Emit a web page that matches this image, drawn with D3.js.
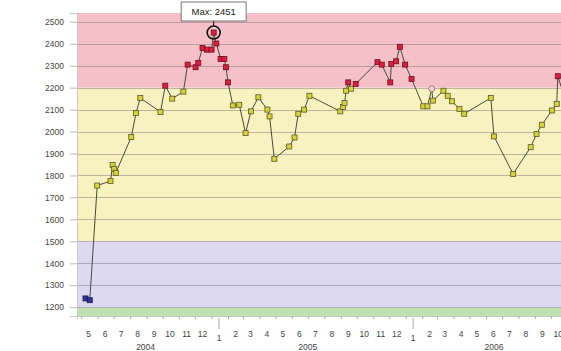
<!DOCTYPE html>
<html>
<head>
<meta charset="utf-8" />
<style>
  body { margin: 0; background: #fff; }
  svg { display: block; font-family: "Liberation Sans", Arial, sans-serif; }
</style>
</head>
<body>
<div id="chart"></div>
<script src="https://cdn.jsdelivr.net/npm/d3@7/dist/d3.min.js"></script>
<script>
var dates = ["2004-05-09","2004-05-17","2004-05-31","2004-06-25","2004-06-29","2004-07-02","2004-07-05",
  "2004-08-03","2004-08-12","2004-08-20","2004-09-27","2004-10-06","2004-10-19","2004-11-09","2004-11-17",
  "2004-12-02","2004-12-07","2004-12-15","2004-12-23","2005-01-01","2005-01-05","2005-01-10","2005-01-18",
  "2005-01-25","2005-01-28","2005-02-01","2005-02-10","2005-02-22","2005-03-06","2005-03-16","2005-03-30",
  "2005-04-16","2005-04-20","2005-04-29","2005-05-27","2005-06-06","2005-06-13","2005-06-24","2005-07-04",
  "2005-08-31","2005-09-05","2005-09-08","2005-09-11","2005-09-15","2005-09-20","2005-09-29","2005-11-09",
  "2005-11-17","2005-12-03","2005-12-05","2005-12-14","2005-12-21","2005-12-31","2006-01-12","2006-02-03",
  "2006-02-11","2006-02-19","2006-02-21","2006-03-13","2006-03-21","2006-03-29","2006-04-12","2006-04-21",
  "2006-06-10","2006-06-16","2006-07-22","2006-08-24","2006-09-04","2006-09-14","2006-10-03","2006-10-12",
  "2006-10-14","2006-10-29"];
var values = [1240,1232,1754,1775,1848,1830,1812,1975,2084,2153,2089,2209,2150,2182,2305,2293,2313,2381,2373,
  2373,2451,2401,2331,2331,2293,2224,2119,2122,1993,2092,2156,2100,2069,1876,1932,1973,2081,2100,2163,2092,
  2112,2130,2186,2224,2195,2217,2316,2305,2224,2308,2320,2386,2305,2240,2115,2115,2195,2141,2186,2163,2138,
  2103,2081,2153,1978,1807,1929,1989,2031,2096,2126,2252,2140];
// the one reading drawn with an open marker
var openPoints = ["2006-02-19"];

var yTicks = d3.range(1200, 2501, 100);
var bandEdges = [1160, 1200, 1500, 2200, 2540];
var bandColors = ["#bfe2b3", "#dcd9f1", "#f7f2bf", "#f5c0c8"];
var years = ["2004", "2005", "2006"];
var yearFirst = ["2004-05", "2005-01", "2006-01"];
var yearLast = ["2004-12", "2005-12", "2006-11"];

var width = 561, height = 351;
var plotLeft = 77, plotTop = 13, plotBottom = 316;

var parse = d3.timeParse("%Y-%m-%d");
var parseMonth = d3.timeParse("%Y-%m");
var data = dates.map((d, i) => ({ date: parse(d), value: values[i], open: openPoints.includes(d) }));

var x = d3.scaleTime()
  .domain([parse("2004-04-23"), parse("2006-10-20")])
  .range([plotLeft, width]);
var y = d3.scaleLinear()
  .domain([bandEdges[0], bandEdges[bandEdges.length - 1]])
  .range([plotBottom, plotTop]);
var midMonth = m => d3.timeDay.offset(m, 14);

var svg = d3.select("#chart").append("svg")
  .attr("width", width)
  .attr("height", height);

// coloured ranges
svg.append("g")
  .selectAll("rect")
  .data(bandColors)
  .join("rect")
  .attr("x", plotLeft)
  .attr("width", width - plotLeft)
  .attr("y", (c, i) => y(bandEdges[i + 1]))
  .attr("height", (c, i) => y(bandEdges[i]) - y(bandEdges[i + 1]))
  .attr("fill", c => c);

// grid
svg.append("g")
  .selectAll("line")
  .data(yTicks)
  .join("line")
  .attr("x1", plotLeft)
  .attr("x2", width)
  .attr("y1", d => Math.round(y(d)) + 0.5)
  .attr("y2", d => Math.round(y(d)) + 0.5)
  .attr("stroke", "#6f6f6f")
  .attr("stroke-opacity", 0.45);

// y axis
svg.append("g")
  .attr("transform", `translate(${plotLeft},0)`)
  .call(d3.axisLeft(y).tickValues(yTicks).tickFormat(d3.format("d")).tickSize(7).tickPadding(6))
  .call(g => g.select(".domain").attr("stroke", "#c8c8c8"))
  .call(g => g.selectAll(".tick line").attr("stroke", "#bbb"))
  .call(g => g.selectAll("text").attr("fill", "#444").attr("font-size", 8.5).attr("font-family", null));

// x axis line + month ticks
var months = d3.timeMonth.range(parseMonth("2004-05"), parseMonth("2006-12"));
svg.append("g")
  .attr("transform", `translate(0,${plotBottom})`)
  .call(d3.axisBottom(x).tickValues(months).tickSize(3).tickFormat(""))
  .call(g => g.select(".domain").attr("stroke", "#c8c8c8"))
  .call(g => g.selectAll(".tick line").attr("stroke", "#aaa"));

svg.append("g")
  .attr("font-size", 8.5)
  .attr("fill", "#444")
  .attr("text-anchor", "middle")
  .selectAll("text")
  .data(months)
  .join("text")
  .attr("x", d => x(midMonth(d)))
  .attr("y", d => d.getMonth() === 0 ? 341 : 337)
  .text(d => d.getMonth() + 1);

// year separators
svg.append("g")
  .selectAll("line")
  .data(months.filter(d => d.getMonth() === 0))
  .join("line")
  .attr("x1", d => x(midMonth(d)))
  .attr("x2", d => x(midMonth(d)))
  .attr("y1", plotBottom + 2)
  .attr("y2", plotBottom + 13)
  .attr("stroke", "#aaa");

svg.append("g")
  .attr("font-size", 8.5)
  .attr("fill", "#444")
  .attr("text-anchor", "middle")
  .selectAll("text")
  .data(years)
  .join("text")
  .attr("x", (d, i) => (x(midMonth(parseMonth(yearFirst[i]))) + x(midMonth(parseMonth(yearLast[i])))) / 2)
  .attr("y", 350)
  .text(d => d);

// readings
var line = d3.line().x(d => x(d.date)).y(d => y(d.value));
svg.append("path")
  .datum(data)
  .attr("fill", "none")
  .attr("stroke", "#4a4a3c")
  .attr("stroke-width", 1)
  .attr("d", line);

function fillFor(v) {
  if (v > 2200) return "#dc1f3f";
  if (v >= 1500) return "#d8d23c";
  return "#34349a";
}
function strokeFor(v) {
  if (v > 2200) return "#6a1020";
  if (v >= 1500) return "#5a5a22";
  return "#1a1a50";
}

svg.append("g")
  .selectAll("rect")
  .data(data.filter(d => !d.open))
  .join("rect")
  .attr("x", d => x(d.date) - 2.5)
  .attr("y", d => y(d.value) - 2.5)
  .attr("width", 5)
  .attr("height", 5)
  .attr("fill", d => fillFor(d.value))
  .attr("stroke", d => strokeFor(d.value))
  .attr("stroke-width", 0.8);

svg.append("g")
  .selectAll("circle")
  .data(data.filter(d => d.open))
  .join("circle")
  .attr("cx", d => x(d.date))
  .attr("cy", d => y(d.value))
  .attr("r", 3)
  .attr("fill", "#ecd2cf")
  .attr("stroke", "#a07f7f")
  .attr("stroke-width", 1);

// max callout
var maxPt = data[d3.maxIndex(data, d => d.value)];
var mx = x(maxPt.date), my = y(maxPt.value);
svg.append("circle")
  .attr("cx", mx)
  .attr("cy", my)
  .attr("r", 6.5)
  .attr("fill", "none")
  .attr("stroke", "#111")
  .attr("stroke-width", 1.6);
svg.append("line")
  .attr("x1", mx)
  .attr("x2", mx)
  .attr("y1", my - 6.5)
  .attr("y2", 21)
  .attr("stroke", "#111");
svg.append("rect")
  .attr("x", mx - 32.5)
  .attr("y", 2)
  .attr("width", 65)
  .attr("height", 19)
  .attr("fill", "#fff")
  .attr("stroke", "#777");
svg.append("text")
  .attr("x", mx)
  .attr("y", 15)
  .attr("text-anchor", "middle")
  .attr("font-size", 9.5)
  .attr("fill", "#222")
  .text("Max: " + maxPt.value);
</script>
</body>
</html>
